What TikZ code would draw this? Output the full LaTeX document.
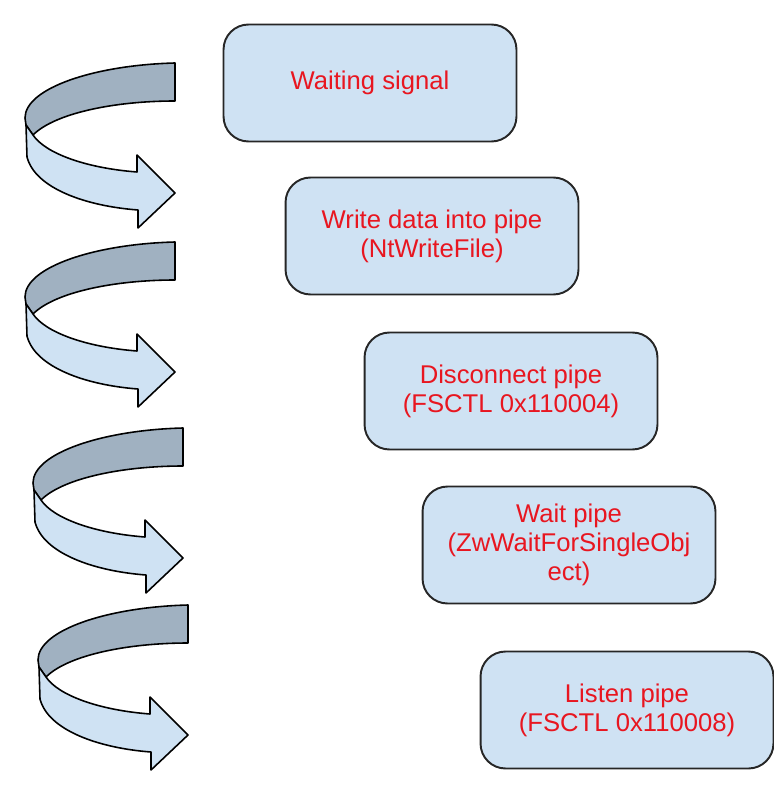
\documentclass[tikz,border=0pt]{standalone}
\usepackage{fontspec}
\setmainfont{Liberation Sans}
\usetikzlibrary{positioning}
\definecolor{boxblue}{RGB}{207,226,243}
\definecolor{bandgray}{RGB}{160,177,193}
\definecolor{stepred}{RGB}{232,22,32}

\tikzset{
  turnarrow/.pic={
    % back of the band
    \filldraw [fill=bandgray, line width=0.9pt, line join=round]
      (0,0) .. controls (-80,2) and (-150,25) .. (-150,55) -- (-149,62) -- (-142,72)
      .. controls (-120,50) and (-60,38) .. (0,38) -- cycle;
    % front of the band with the head
    \filldraw [fill=boxblue, line width=0.9pt, line join=round]
      (-149,62) -- (-148,94) .. controls (-140,125) and (-90,143) .. (-37,147)
      -- (-37,165) -- (0,130) -- (-38,92) -- (-38,109)
      .. controls (-90,105) and (-130,90) .. (-142,72) -- cycle;
  }
}

\begin{document}
\begin{tikzpicture}
  [x=0.02cm, y=-0.02cm,
   stepbox/.style={draw=black!85, line width=1.1pt, fill=boxblue,
     rounded corners=0.5cm, minimum width=5.86cm, minimum height=2.34cm,
     inner sep=0pt, align=center, text=stepred,
     font=\fontsize{14.6}{16.5}\selectfont}]

  \useasboundingbox (0,0) rectangle (773,800);

  \node [stepbox] (waiting) at (370,83) {Waiting signal};
  \node [stepbox] (write) at (432,236) {Write data into pipe\\(NtWriteFile)};
  \node [stepbox] (disconnect) at (511,391) {Disconnect pipe\\(FSCTL 0x110004)};
  \node [stepbox] (waitpipe) at (569,545) {Wait pipe\\(ZwWaitForSingleObj\\ect)};
  \node [stepbox] (listen) at (627,710) {Listen pipe\\(FSCTL 0x110008)};

  \foreach \x/\y in {175/63, 175/242, 183/428, 188/605}
    \pic at (\x,\y) {turnarrow};

\end{tikzpicture}
\end{document}
